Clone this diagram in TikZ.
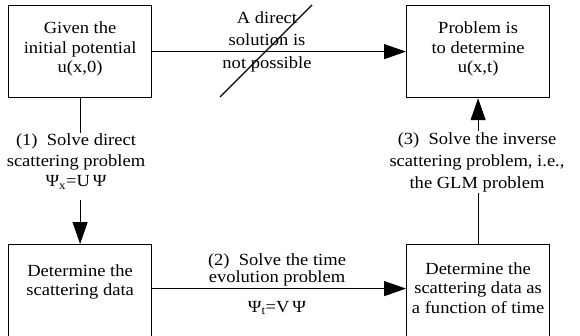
\documentclass[tikz,border=0pt]{standalone}
\usepackage{fontspec}
\setmainfont[FakeStretch=1.09]{Liberation Serif}
\usetikzlibrary{arrows.meta}

\begin{document}
\begin{tikzpicture}[x=1pt, y=-1pt,
    every node/.style={font=\fontsize{17}{19.5}\selectfont, align=center},
    stage/.style={draw, line width=1.2pt, minimum width=143pt, minimum height=92pt, inner sep=0pt},
    note/.style={inner sep=1pt},
    link/.style={line width=1.1pt},
    flow/.style={line width=1.1pt, -{Triangle[length=22pt, width=15pt]}}]
    \useasboundingbox (0,0) rectangle (580,335);
    \clip (0,0) rectangle (580,335);
    % the four stages
    \node[stage, anchor=north west, text depth=8.6pt] (given) at (8,5) {Given the\\initial potential\\u(x,0)};
    \node[stage, anchor=north west, text depth=8.6pt] (target) at (406,5) {Problem is\\to determine\\u(x,t)};
    \node[stage, anchor=north west, minimum height=94pt, text depth=23pt] (scatter) at (8,244) {Determine the\\scattering data};
    \node[stage, anchor=north west, minimum height=94pt, text depth=7.6pt] (evolved) at (406,244) {Determine the\\scattering data as\\a function of time};
    % labels on the routes
    \node[note, font=\fontsize{17}{22.5}\selectfont] (nodirect) at (267,41.5) {A direct\\solution is\\not possible};
    \node[note, font=\fontsize{17}{20.5}\selectfont] (step1) at (76,161.7) {(1)~ Solve direct\\scattering problem\\Ψ\textsubscript{x}=U\,Ψ};
    \node[note, font=\fontsize{17}{17}\selectfont] (step2) at (277,284.2) {(2)~ Solve the time\\evolution problem\\[13pt]Ψ\textsubscript{t}=V\,Ψ};
    \node[note, font=\fontsize{17}{22}\selectfont] (step3) at (477,162) {(3)~ Solve the inverse\\scattering problem, i.e.,\\the GLM problem};
    % routes
    \draw[flow] (given) -- (target);
    \coordinate (cutA) at (220,97);
    \coordinate (cutB) at (312,5);
    \draw[link] (cutA) -- (cutB);
    \draw[link] (given.south) -- (given.south |- step1.north);
    \draw[flow, shorten <=9pt] (scatter.north |- step1.south) -- (scatter.north);
    \draw[flow] ([yshift=3pt]scatter.east) -- ([yshift=3pt]evolved.west);
    \draw[link] (evolved.north) -- (evolved.north |- step3.south);
    \draw[flow] (target.south |- step3.north) -- (target.south);
\end{tikzpicture}
\end{document}
